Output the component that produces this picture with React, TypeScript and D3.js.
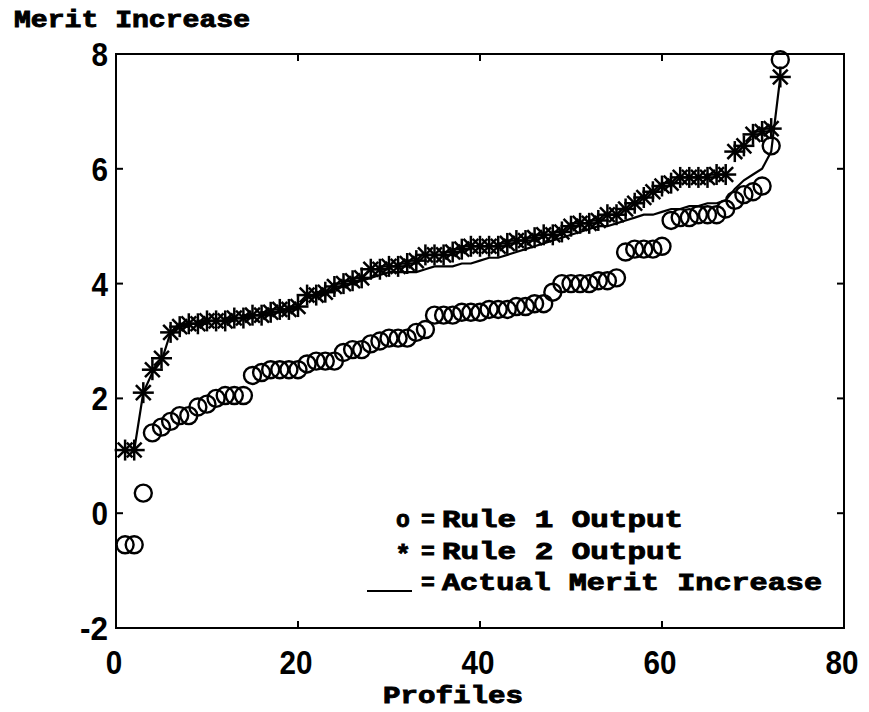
import React from "react";
import * as d3 from "d3";

// Profile index 1..73
const profiles: number[] = Array.from({ length: 73 }, (_, i) => i + 1);

// Rule 1 output (circles)
const rule1: number[] = [
  -0.55, -0.55, 0.35, 1.4, 1.5, 1.6, 1.7, 1.7, 1.85, 1.9,
  2.0, 2.05, 2.05, 2.05, 2.4, 2.45, 2.5, 2.5, 2.5, 2.5,
  2.6, 2.65, 2.65, 2.65, 2.8, 2.85, 2.85, 2.95, 3.0, 3.05,
  3.05, 3.05, 3.15, 3.2, 3.45, 3.45, 3.45, 3.5, 3.5, 3.5,
  3.55, 3.55, 3.55, 3.6, 3.6, 3.65, 3.65, 3.85, 4.0, 4.0,
  4.0, 4.0, 4.05, 4.05, 4.1, 4.55, 4.6, 4.6, 4.6, 4.65,
  5.1, 5.15, 5.15, 5.2, 5.2, 5.2, 5.3, 5.45, 5.55, 5.6,
  5.7, 6.4, 7.9,
];

// Rule 2 output (asterisks)
const rule2: number[] = [
  1.1, 1.1, 2.1, 2.5, 2.7, 3.15, 3.25, 3.3, 3.3, 3.35,
  3.35, 3.35, 3.4, 3.4, 3.45, 3.45, 3.5, 3.55, 3.55, 3.6,
  3.8, 3.8, 3.85, 3.95, 4.0, 4.05, 4.1, 4.25, 4.25, 4.3,
  4.3, 4.35, 4.4, 4.5, 4.5, 4.5, 4.55, 4.6, 4.65, 4.65,
  4.65, 4.65, 4.7, 4.75, 4.75, 4.8, 4.85, 4.85, 4.9, 5.0,
  5.05, 5.05, 5.1, 5.2, 5.2, 5.3, 5.4, 5.5, 5.6, 5.7,
  5.75, 5.85, 5.85, 5.85, 5.85, 5.9, 5.9, 6.3, 6.4, 6.6,
  6.65, 6.7, 7.6,
];

// Actual merit increase (solid line)
const actual: number[] = [
  1.1, 1.1, 2.1, 2.45, 2.65, 3.15, 3.25, 3.3, 3.3, 3.35,
  3.35, 3.35, 3.4, 3.4, 3.45, 3.45, 3.5, 3.5, 3.55, 3.6,
  3.75, 3.8, 3.85, 3.9, 3.95, 4.0, 4.05, 4.1, 4.15, 4.2,
  4.2, 4.2, 4.2, 4.25, 4.3, 4.3, 4.3, 4.35, 4.35, 4.4,
  4.45, 4.45, 4.5, 4.55, 4.6, 4.65, 4.7, 4.75, 4.8, 4.85,
  4.9, 4.95, 5.0, 5.0, 5.05, 5.1, 5.15, 5.2, 5.2, 5.25,
  5.3, 5.3, 5.35, 5.35, 5.4, 5.4, 5.45, 5.65, 5.8, 5.9,
  6.0, 6.3, 7.6,
];

const xTicks: number[] = [0, 20, 40, 60, 80];
const yTicks: number[] = [-2, 0, 2, 4, 6, 8];

const W = 869;
const H = 712;
const left = 116;
const right = 844;
const top = 54;
const bottom = 628;

const labelFont = "'Liberation Mono', 'Courier New', monospace";
const tickFont = "'Liberation Sans', Arial, sans-serif";

function Asterisk({ cx, cy, r }: { cx: number; cy: number; r: number }) {
  const angles = [0, 45, 90, 135];
  return (
    <g>
      {angles.map((a) => {
        const rad = (a * Math.PI) / 180;
        const dx = Math.cos(rad) * r;
        const dy = Math.sin(rad) * r;
        return (
          <line
            key={a}
            x1={cx - dx}
            y1={cy - dy}
            x2={cx + dx}
            y2={cy + dy}
            stroke="#000"
            strokeWidth={2.5}
          />
        );
      })}
    </g>
  );
}

export default function App() {
  const x = d3.scaleLinear().domain([0, 80]).range([left, right]);
  const y = d3.scaleLinear().domain([-2, 8]).range([bottom, top]);

  const line = d3
    .line<number>()
    .x((_, i) => x(profiles[i]))
    .y((d) => y(d));

  const tickLen = 7;

  return (
    <svg
      width={W}
      height={H}
      style={{ position: "absolute", left: 0, top: 0, background: "#fff" }}
    >
      <rect x={0} y={0} width={W} height={H} fill="#fff" />

      {/* axis frame */}
      <rect
        x={left}
        y={top}
        width={right - left}
        height={bottom - top}
        fill="none"
        stroke="#000"
        strokeWidth={2}
      />

      {/* inward ticks on all four sides */}
      {xTicks.map((t) => (
        <g key={"xt" + t}>
          <line x1={x(t)} x2={x(t)} y1={bottom} y2={bottom - tickLen} stroke="#000" strokeWidth={2} />
          <line x1={x(t)} x2={x(t)} y1={top} y2={top + tickLen} stroke="#000" strokeWidth={2} />
          <text
            x={x(t) - 2}
            y={674}
            textAnchor="middle"
            fontFamily={tickFont}
            fontWeight="bold"
            fontSize={34}
            textLength={String(t).length * 16.5}
            lengthAdjust="spacingAndGlyphs"
            fill="#000"
          >
            {t}
          </text>
        </g>
      ))}
      {yTicks.map((t) => {
        const label = String(t);
        return (
          <g key={"yt" + t}>
            <line x1={left} x2={left + tickLen} y1={y(t)} y2={y(t)} stroke="#000" strokeWidth={2} />
            <line x1={right} x2={right - tickLen} y1={y(t)} y2={y(t)} stroke="#000" strokeWidth={2} />
            <text
              x={108}
              y={y(t) + 12}
              textAnchor="end"
              fontFamily={tickFont}
              fontWeight="bold"
              fontSize={34}
              textLength={label.length === 1 ? 16.5 : 28}
              lengthAdjust="spacingAndGlyphs"
              fill="#000"
            >
              {label}
            </text>
          </g>
        );
      })}

      {/* actual merit increase */}
      <path d={line(actual) || ""} fill="none" stroke="#000" strokeWidth={2.2} />

      {/* rule 1 output */}
      {rule1.map((v, i) => (
        <circle
          key={"c" + i}
          cx={x(profiles[i])}
          cy={y(v)}
          r={8.5}
          fill="none"
          stroke="#000"
          strokeWidth={2.4}
        />
      ))}

      {/* rule 2 output */}
      {rule2.map((v, i) => (
        <Asterisk key={"s" + i} cx={x(profiles[i])} cy={y(v)} r={10.5} />
      ))}

      {/* legend */}
      <g fontFamily={labelFont} fontWeight="bold" fontSize={23} fill="#000" stroke="#000" strokeWidth={0.9}>
        <text x={403} y={527} textAnchor="middle">o</text>
        <text x={428} y={527} textAnchor="middle">=</text>
        <text x={442} y={527} textLength={241} lengthAdjust="spacingAndGlyphs">Rule 1 Output</text>

        <text x={403} y={563} textAnchor="middle" fontSize={26}>*</text>
        <text x={428} y={559} textAnchor="middle">=</text>
        <text x={442} y={559} textLength={241} lengthAdjust="spacingAndGlyphs">Rule 2 Output</text>

        <text x={428} y={590} textAnchor="middle">=</text>
        <text x={442} y={590} textLength={380} lengthAdjust="spacingAndGlyphs">Actual Merit Increase</text>
      </g>
      <line x1={367} x2={412} y1={591} y2={591} stroke="#000" strokeWidth={2} />

      {/* axis titles */}
      <g fontFamily={labelFont} fontWeight="bold" fontSize={23} fill="#000" stroke="#000" strokeWidth={0.9}>
        <text x={14} y={27} textLength={236} lengthAdjust="spacingAndGlyphs">Merit Increase</text>
        <text x={383} y={703} textLength={140} lengthAdjust="spacingAndGlyphs">Profiles</text>
      </g>
    </svg>
  );
}
